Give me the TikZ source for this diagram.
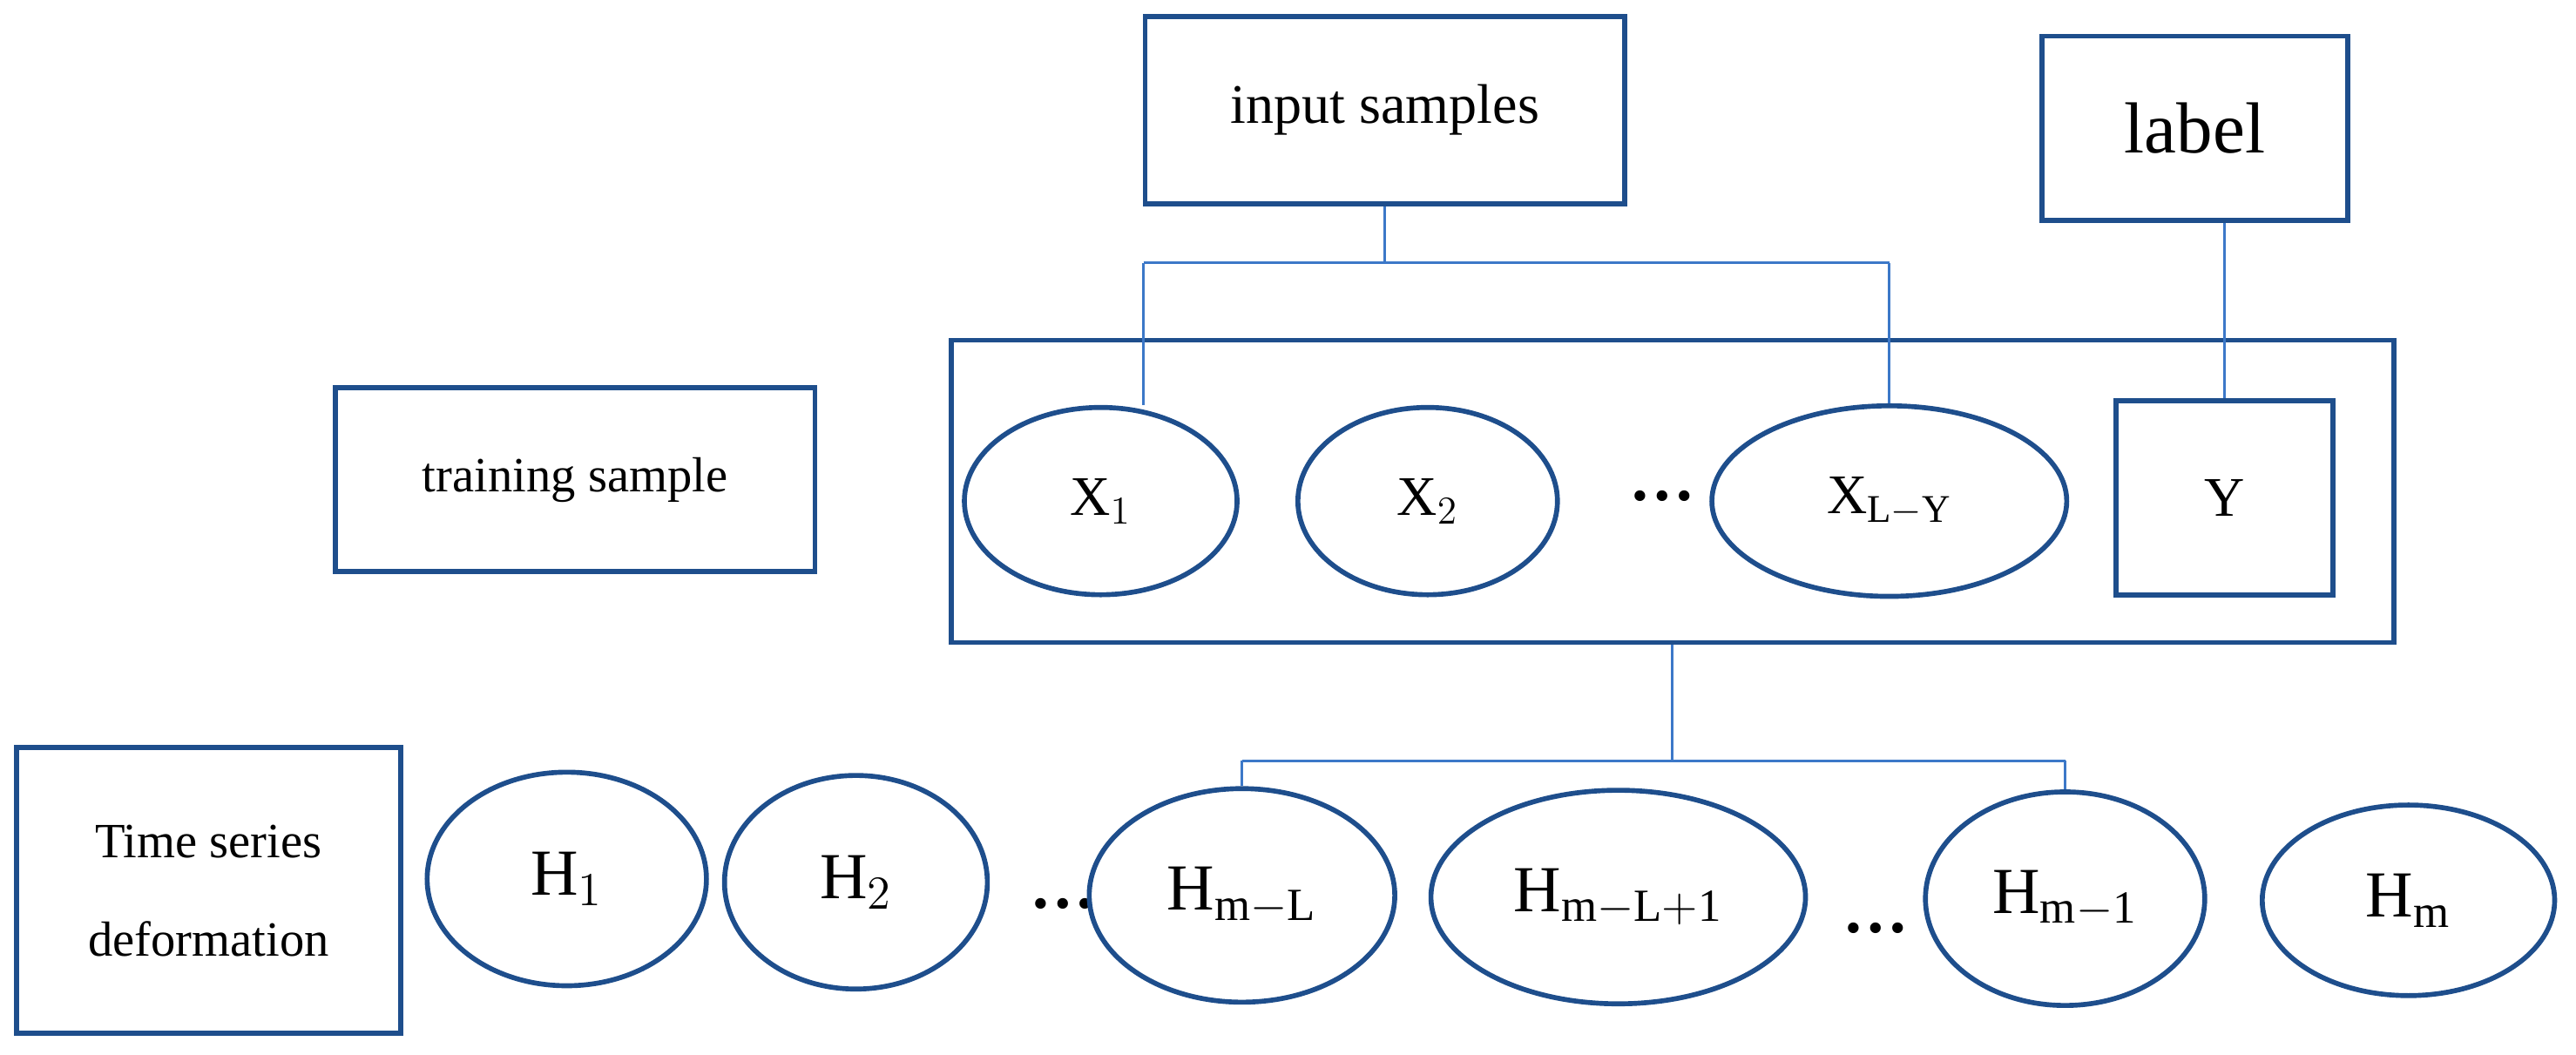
\documentclass[tikz,border=0pt]{standalone}
\usepackage{fontspec}
\setmainfont{Liberation Serif}
\usetikzlibrary{shapes.geometric}
\definecolor{boxblue}{RGB}{30,78,140}
\definecolor{linkblue}{RGB}{60,120,200}
\begin{document}
\begin{tikzpicture}[x=0.5pt,y=-0.5pt,
  box/.style={draw=boxblue, line width=1.5pt, inner sep=0pt},
  oval/.style={ellipse, draw=boxblue, line width=1.5pt, inner sep=0pt},
  link/.style={draw=linkblue, line width=0.8pt},
  dots/.style={inner sep=0pt, font=\fontsize{20}{20}\selectfont\bfseries},
  every node/.append style={font=\fontsize{17}{20}\selectfont}]
\useasboundingbox (0,0) rectangle (1568,642);

% top boxes
\node[box, minimum width=146pt, minimum height=57pt] (inp) at (843,67) {input samples};
\node[box, minimum width=93pt, minimum height=56pt, font=\fontsize{22}{26}\selectfont] (lab) at (1336,78) {label};
\node[box, minimum width=146pt, minimum height=56pt, font=\fontsize{15}{18}\selectfont] (train) at (350,292) {training sample};

% training sample frame
\node[box, minimum width=439pt, minimum height=92pt] (frame) at (1018,299) {};
\node[oval, minimum width=83pt, minimum height=57pt] (x1) at (670,305) {X$_{1}$};
\node[oval, minimum width=79pt, minimum height=57pt] (x2) at (869,305) {X$_{2}$};
\node[dots] (xd) at (1012,302) {…};
\node[oval, minimum width=108pt, minimum height=58pt] (xl) at (1150,305) {X$_{\mathrm{L-Y}}$};
\node[box, minimum width=66pt, minimum height=59pt] (y) at (1354,303) {Y};

% time series
\node[box, minimum width=117pt, minimum height=87pt, align=center, font=\fontsize{15}{30}\selectfont] (ts) at (127,542) {Time series\\deformation};
\tikzset{hnode/.style={oval, minimum height=65pt, font=\fontsize{20}{24}\selectfont}}
\node[hnode, minimum width=85pt] (h1) at (345,535) {H$_{1}$};
\node[hnode, minimum width=80pt] (h2) at (521,537) {H$_{2}$};
\node[dots] (hd1) at (647,550) {…};
\node[hnode, minimum width=93pt] (hml) at (756,545) {H$_{\mathrm{m-L}}$};
\node[hnode, minimum width=114pt] (hml1) at (985,546) {H$_{\mathrm{m-L+1}}$};
\node[dots] (hd2) at (1142,565) {…};
\node[hnode, minimum width=85pt] (hm1) at (1257,547) {H$_{\mathrm{m-1}}$};
\node[hnode, minimum width=89pt, minimum height=58pt] (hm) at (1466,548) {H$_{\mathrm{m}}$};

% connectors
\coordinate (a) at (843,160);
\coordinate (a1) at (696,160);
\coordinate (a2) at (1150,160);
\draw[link] (inp.south) -- (a);
\draw[link] (a1) -- (a2);
\draw[link] (a1) -- (a1 |- x1.north);
\draw[link] (a2) -- (xl.north);
\draw[link] (lab.south -| y.north) -- (y.north);
\coordinate (b) at (1018,463);
\coordinate (b1) at (756,463);
\coordinate (b2) at (1257,463);
\draw[link] (frame.south) -- (b);
\draw[link] (b1) -- (b2);
\draw[link] (b1) -- (hml.north);
\draw[link] (b2) -- (hm1.north);
\end{tikzpicture}
\end{document}
